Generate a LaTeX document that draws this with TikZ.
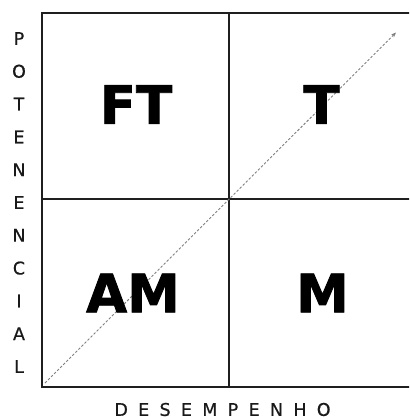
\documentclass[tikz,border=0pt]{standalone}
\usepackage{fontspec}
\setmainfont{DejaVu Sans}
\newfontfamily\heavyfont[FakeBold=1.6]{DejaVu Sans Bold}
\newfontfamily\axisfont[FakeBold=0.6]{DejaVu Sans}
\usetikzlibrary{arrows.meta}
\tikzset{
  gridline/.style={draw=black!88, line width=2pt},
  diag/.style={draw=black!50, line width=0.9pt, dash pattern=on 2.5pt off 1.8pt, -{Stealth[length=5pt,width=4pt,open]}},
  axislet/.style={inner sep=0pt, text=black!90, font=\fontsize{17.5}{20}\axisfont},
  biglet/.style={inner sep=0pt, text=black, font=\fontsize{53}{60}\heavyfont},
}
\newcommand{\lgap}{\hspace{10.3pt}}
\begin{document}
\begin{tikzpicture}[x=1pt,y=-1pt]
\useasboundingbox (0,0) rectangle (409,419);
\fill[white] (0,0) rectangle (409,419);
\begin{scope}
\clip (0,0) rectangle (409,419);
% grid
\draw[gridline] (42,12.7) rectangle (414,386.5);
\draw[gridline] (228.5,12.7) -- (228.5,386.5);
\draw[gridline] (42,199.5) -- (414,199.5);
\end{scope}
% diagonal arrow
\coordinate (start) at (45,383);
\coordinate (end) at (396,32.5);
\draw[diag] (start) -- (end);
% quadrant labels
\node[biglet] (ft) at (136,104.5) {FT};
\node[biglet] (t) at (321.5,104.5) {T};
\node[biglet] (am) at (133,293) {AM};
\node[biglet] (m) at (322.5,293) {M};
% vertical axis letters
\foreach \l [count=\i from 0] in {P,O,T,E,N,E,N,C,I,A,L}
  \node[axislet] (v\i) at (19,38.5+32.8*\i) {\l};
% horizontal axis label
\node[axislet] (desempenho) at (222.5,409.5) {D\lgap E\lgap S\lgap E\lgap M\lgap P\lgap E\lgap N\lgap H\lgap O};
\end{tikzpicture}
\end{document}
